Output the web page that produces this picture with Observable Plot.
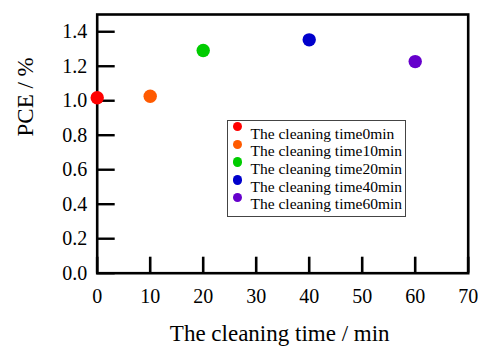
<!DOCTYPE html>
<html>
<head>
<meta charset="utf-8">
<script src="https://cdn.jsdelivr.net/npm/d3@7"></script>
<script src="https://cdn.jsdelivr.net/npm/@observablehq/plot@0.6"></script>
<style>
  html, body { margin: 0; padding: 0; background: white; }
  #wrap { position: relative; width: 478px; height: 347px; font-family: "Liberation Serif", "Times New Roman", serif; }
  #legend {
    position: absolute; left: 227px; top: 120px; width: 179px; height: 97px;
    box-sizing: border-box; border: 1.5px solid #444; background: white;
    padding-top: 3.7px; font-size: 15.5px; color: black;
  }
  .row { position: relative; height: 17.7px; line-height: 17.7px; padding-left: 22.5px; white-space: nowrap; }
  .sw { position: absolute; left: 4.8px; top: -2.6px; width: 9.4px; height: 9.4px; border-radius: 50%; }
</style>
</head>
<body>
<div id="wrap"><div id="legend"></div></div>
<script>
const times = [0, 10, 20, 40, 60];
const pce = [1.017, 1.026, 1.291, 1.353, 1.227];
const seriesLabels = [
  "The cleaning time0min",
  "The cleaning time10min",
  "The cleaning time20min",
  "The cleaning time40min",
  "The cleaning time60min"
];
const palette = ["#ff0000", "#ff5a00", "#00cc00", "#0000cc", "#6600cc"];
const xTicks = [0, 10, 20, 30, 40, 50, 60, 70];
const yTicks = [0, 0.2, 0.4, 0.6, 0.8, 1.0, 1.2, 1.4];
const xLabel = "The cleaning time / min";
const yLabel = "PCE / %";

const data = times.map((t, i) => ({time: t, pce: pce[i], label: seriesLabels[i]}));

const W = 478, H = 347;
const mL = 96.7, mR = 10.3, mT = 14, mB = 74.3;
const plotW = W - mL - mR, plotH = H - mT - mB;

const chart = Plot.plot({
  width: W, height: H,
  marginLeft: mL, marginRight: mR, marginTop: mT, marginBottom: mB,
  style: {fontFamily: "Liberation Serif, Times New Roman, serif", background: "white", color: "black"},
  x: {domain: [0, 70]},
  y: {domain: [0, 1.5]},
  color: {domain: seriesLabels, range: palette},
  marks: [
    Plot.ruleX(xTicks, {x: d => d, insetTop: plotH - 16, stroke: "black", strokeWidth: 2.6}),
    Plot.ruleY(yTicks, {y: d => d, insetRight: plotW - 18, stroke: "black", strokeWidth: 2.4}),
    Plot.frame({stroke: "black", strokeWidth: 2.6}),
    Plot.axisX(xTicks, {tickSize: 0, tickPadding: 16, fontSize: 20, label: null, tickFormat: d3.format("d")}),
    Plot.axisY(yTicks, {tickSize: 0, tickPadding: 10, fontSize: 20, label: null, tickFormat: d3.format(".1f")}),
    Plot.text([xLabel], {frameAnchor: "bottom", text: d => d, fontSize: 23, dx: -3, dy: 60.3, lineAnchor: "middle"}),
    Plot.text([yLabel], {frameAnchor: "left", text: d => d, fontSize: 23, rotate: -90, dx: -71.7, dy: -7.4, lineAnchor: "middle"}),
    Plot.dot(data, {x: "time", y: "pce", fill: "label", r: 6.7, stroke: "none"})
  ]
});
const wrap = document.getElementById("wrap");
wrap.insertBefore(chart, wrap.firstChild);
chart.style.display = "block";

const legend = document.getElementById("legend");
seriesLabels.forEach((lab, i) => {
  const row = document.createElement("div");
  row.className = "row";
  const sw = document.createElement("span");
  sw.className = "sw";
  sw.style.background = palette[i];
  row.appendChild(sw);
  row.appendChild(document.createTextNode(lab));
  legend.appendChild(row);
});
</script>
</body>
</html>
